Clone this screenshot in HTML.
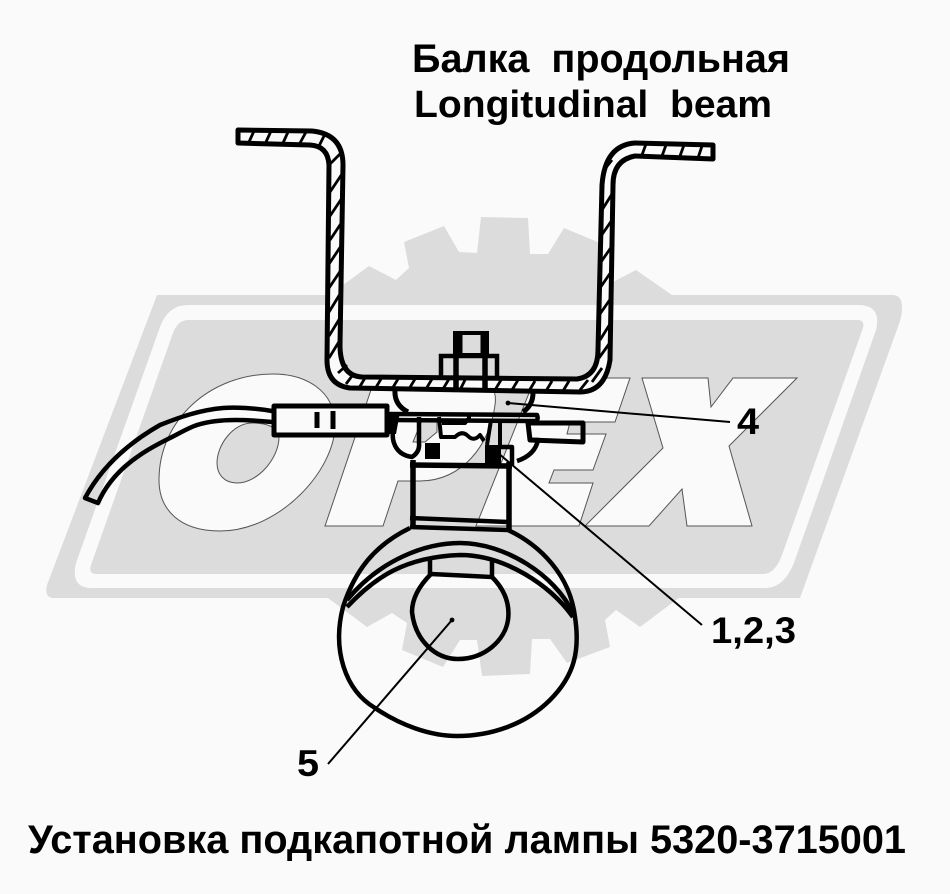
<!DOCTYPE html>
<html><head><meta charset="utf-8"><style>
html,body{margin:0;padding:0;background:#fafafa}
svg{display:block}
text{font-family:"Liberation Sans",sans-serif;font-weight:bold;fill:#000;white-space:pre}
</style></head><body>
<svg width="950" height="894" viewBox="0 0 950 894" xmlns="http://www.w3.org/2000/svg">
<rect width="950" height="894" fill="#fafafa"/>
<!-- gear -->
<polygon fill="#dcdcdc" points="343,285 369,266 396,280 409,268 404,242 444,226 459,252 477,253 481,217 528,218 530,254 548,254 564,228 600,243 608,268 613,282 636,270 672,295 680,300 680,597 640,627 616,610 605,620 610,647 567,663 550,639 532,639 530,674 482,676 477,640 460,640 443,667 402,650 407,623 392,613 367,627 328,598 320,300"/>
<!-- band -->
<path fill="#dcdcdc" d="M157,295H893Q902,295 902,308Q902,316 899,324L800,598H53Q44,597 47,585Z"/>
<path fill="#fafafa" d="M188,305H858Q882,305 876,330L795,560Q785,588 765,588H92Q70,588 76,563L160,327Q168,305 188,305Z"/>
<path fill="#dcdcdc" d="M188,320H858Q865,320 863,328L782,555Q775,574 763,574H97Q88,574 91,565L173,333Q178,320 188,320Z"/>
<!-- OPEX -->
<g fill="#fafafa" stroke="#555" stroke-width="1" stroke-linejoin="miter">
<path fill-rule="evenodd" d="M273,374C305,374 335,390 335,425C335,470 280,531 220,531C180,531 159,510 159,480C159,420 210,374 273,374ZM252,423C233,423 217,445 217,463C217,475 225,483 237,483C258,483 279,458 279,437C279,428 268,423 252,423Z"/>
<path d="M375,378H472C492,378 497,392 495,405C490,445 462,481 420,481H398L383,526H325Z"/>
<polygon fill="#dcdcdc" points="422,420 413,442 425,442 437,432 437,420"/>
<polygon points="535,378 630,378 615,422 570,422 567,434 606,434 593,470 554,470 549,483 593,483 579,526 476,526"/>
<polygon points="642,378 708,378 711,407 733,378 797,378 729,446 752,526 687,526 682,489 649,526 585,526 663,448"/>
</g>
<!-- beam -->
<path fill="#fafafa" stroke="#000" stroke-width="5" stroke-linejoin="round" d="M238,130L312,131Q343,134 343,165L340,345Q340,376 362,377L577,379Q598,376 598,350L602,185Q605,145 635,143L713,145V159L635,156Q613,160 613,185L610,360Q605,392 580,392L350,388Q327,385 327,360L329,165Q328,146 310,145L238,143Z"/>
<g fill="none" stroke="#000" stroke-width="2.8">
<path d="M249,142l5,-11M266,142l5,-11M283,143l5,-11M300,143l6,-11M318,148l6,-12M329,165l12,-12"/>
<path d="M330,192l12,-18M330,216l12,-18M330,240l12,-18M329,264l12,-18M329,288l12,-18M329,312l11,-18M329,336l11,-18M329,358l11,-18"/>
<path d="M338,373l9,-8M346,384l6,-8M359,388l6,-10M375,389l6,-10M392,389l6,-10M409,389l6,-10M426,389l6,-10M443,389l6,-10M460,390l5,-10M495,390l6,-10M512,390l6,-10M529,391l6,-10M546,391l6,-10M563,391l6,-10M580,390l8,-10M592,382l10,-14"/>
<path d="M602,210l10,-16M601,236l11,-16M601,262l11,-16M600,288l11,-16M600,314l11,-16M600,340l10,-16M599,358l10,-14"/>
<path d="M604,170l8,-10M612,155l8,-8M642,155l4,-11M662,156l4,-11M680,156l4,-11M698,158l4,-12"/>
</g>
<!-- bolt -->
<g fill="none" stroke="#000">
<rect x="455" y="333" width="32" height="22" stroke-width="4"/>
<path d="M459,333V355M484,333V355" stroke-width="7"/>
<path d="M441,377V356H497V377" stroke-width="4.5"/>
<path d="M456,356V390M485,356V392" stroke-width="5.5"/>
</g>
<!-- bracket -->
<g fill="none" stroke="#000" stroke-linejoin="round">
<path d="M395,390Q394,405 408,412M533,393Q533,405 523,412" stroke-width="5"/>
<path d="M390,414L537,415Q539,420 535,421L390,420" stroke-width="4.5"/>
<path d="M395,420Q391,435 394,443Q398,455 412,457Q420,452 419,443V417M532,440H538Q535,455 517,461" stroke-width="4.5"/>
<path d="M528,423H583V442L530,440Z" stroke-width="5"/>
<path d="M439,417L441,437H455Q462,430 468,436T480,435L484,441M442,423L465,423L468,419M491,420L487,445M500,420V448M469,413V420" stroke-width="4"/>
<path d="M500,447H512V465" stroke-width="4.5"/>
<path d="M410,465L512,466" stroke-width="5.5"/>
<path d="M413,460V527M509,462V530" stroke-width="5.5"/>
<path d="M410,518L508,522M410,527L508,530" stroke-width="4.5"/>
</g>
<g fill="#000">
<rect x="425" y="443" width="15" height="16"/>
<rect x="485" y="445" width="16" height="19"/>
<path d="M387,412H400L396,434H387Z"/>
</g>
<!-- cable, connector -->
<g fill="none" stroke="#000" stroke-linejoin="round">
<path d="M272,411C255,408 235,407 223,408C200,410 180,417 160,425C125,445 100,470 85,498L98,503C108,480 125,465 140,455C150,448 160,443 170,438C180,433 188,428 197,425C210,421 225,420 235,420C250,420 262,421 272,422" stroke-width="4.5"/>
<rect x="274" y="406" width="113" height="29" fill="#fafafa" stroke-width="5"/>
<path d="M317,412V428M333,411V429" stroke-width="5"/>
</g>
<!-- lamp -->
<g fill="none" stroke="#000" stroke-linejoin="round" stroke-width="4.5">
<path d="M410,528C375,545 355,570 343,607C332,650 345,690 375,708C400,725 430,736 457,736C490,736 525,725 550,700C575,675 580,650 575,617C570,575 540,545 508,530"/>
<path d="M347,600C380,560 425,543 460,543C505,543 555,575 573,613"/>
<path d="M347,607C375,577 405,557 460,555C505,555 550,585 573,617"/>
<path d="M430,557V575M492,560V578"/>
<path d="M431,574L492,577C505,590 510,605 508,620C505,640 485,659 458,659C435,659 415,640 412,612C412,598 420,585 431,574Z"/>
</g>
<!-- leaders -->
<g fill="none" stroke="#000" stroke-width="2">
<path d="M452,620L328,764"/>
<path d="M498,453L702,625"/>
<path d="M508,403L730,422"/>
</g>
<circle cx="452" cy="620" r="2.4" fill="#000"/>
<circle cx="508" cy="403" r="2.4" fill="#000"/>
<!-- labels -->
<text x="412" y="72" font-size="40" textLength="378" lengthAdjust="spacingAndGlyphs">Балка  продольная</text>
<text x="414" y="117" font-size="38" textLength="358" lengthAdjust="spacingAndGlyphs">Longitudinal  beam</text>
<text x="737" y="434" font-size="37" textLength="22" lengthAdjust="spacingAndGlyphs">4</text>
<text x="711" y="643" font-size="37" textLength="85" lengthAdjust="spacingAndGlyphs">1,2,3</text>
<text x="297" y="776" font-size="37" textLength="22" lengthAdjust="spacingAndGlyphs">5</text>
<text x="28" y="853" font-size="40" textLength="878" lengthAdjust="spacingAndGlyphs">Установка подкапотной лампы 5320-3715001</text>
</svg>
</body></html>
